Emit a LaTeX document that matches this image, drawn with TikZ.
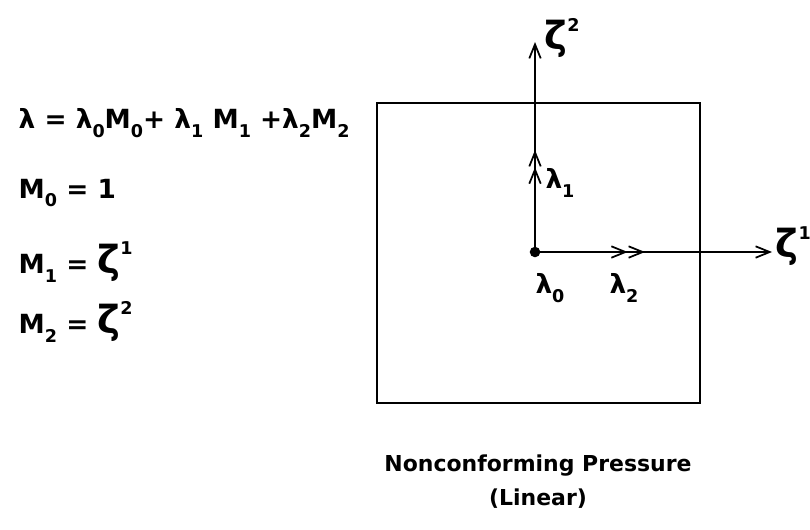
\documentclass[tikz,border=0pt]{standalone}
\usepackage{fontspec}
\setmainfont{DejaVu Sans}
\usetikzlibrary{arrows.meta}
\newcommand{\lo}[1]{\raisebox{-0.6ex}{\normalsize #1}}
\newcommand{\hi}[1]{\raisebox{1.3ex}{\normalsize #1}}
\newcommand{\zt}{{\fontsize{22}{24}\selectfont ζ}}
\begin{document}
\begin{tikzpicture}[x=0.02cm, y=-0.02cm, line width=1pt,
    every node/.style={font=\fontsize{15}{18}\selectfont\bfseries},
    axis/.style={-{Straight Barb[length=8pt,width=6.5pt]}},
    dbl/.style={-{Straight Barb[length=8pt,width=6.5pt]Straight Barb[length=8pt,width=6.5pt]}}]
  \useasboundingbox (0,0) rectangle (810,529);

  % element
  \draw[line width=1.3pt] (377,103) rectangle (700,403);

  % local axes
  \coordinate (O) at (535,252);
  \coordinate (X) at (772,252);
  \coordinate (Y) at (535,42);
  \coordinate (A1) at (535,150);
  \coordinate (A2) at (645,252);
  \draw[axis] (O) -- (X);
  \draw[axis] (O) -- (Y);
  \draw[dbl] (O) -- (A1);
  \draw[dbl] (O) -- (A2);
  \fill (O) circle (3pt);

  % labels
  \node[anchor=west, inner sep=0pt] (z1) at (775,246) {\zt\hi{1}};
  \node[anchor=west, inner sep=1pt] (z2) at (542,38) {\zt\hi{2}};
  \node (l0) at (550,288) {λ\lo{0}};
  \node (l1) at (560,183) {λ\lo{1}};
  \node (l2) at (624,288) {λ\lo{2}};

  % shape functions
  \node[anchor=west] (eq) at (12,123) {λ = λ\lo{0}M\lo{0}+ λ\lo{1} M\lo{1} +λ\lo{2}M\lo{2}};
  \node[anchor=west] (m0) at (12,193) {M\lo{0} = 1};
  \node[anchor=west] (m1) at (12,262) {M\lo{1} = \zt\hi{1}};
  \node[anchor=west] (m2) at (12,322) {M\lo{2} = \zt\hi{2}};

  % caption
  \node[font=\fontsize{12.5}{15}\selectfont\bfseries] (cap) at (538,466) {Nonconforming Pressure};
  \node[font=\fontsize{12.5}{15}\selectfont\bfseries] (lin) at (538,499) {(Linear)};
\end{tikzpicture}
\end{document}
